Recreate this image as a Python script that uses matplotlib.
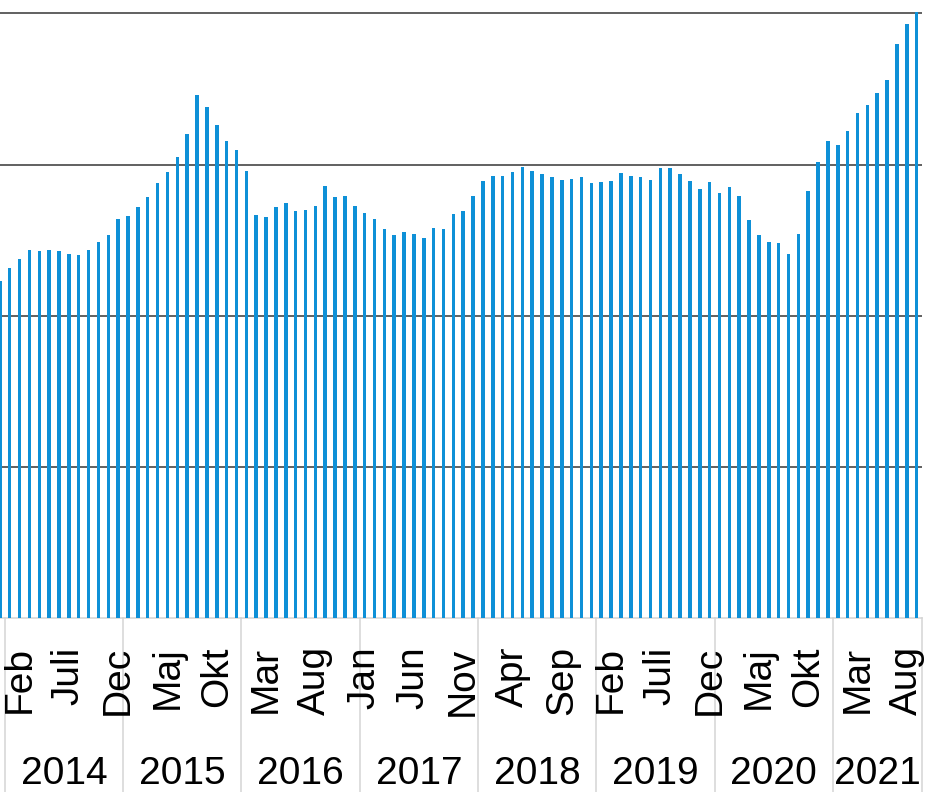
import matplotlib
matplotlib.use("Agg")
import matplotlib.pyplot as plt

plt.rcParams['font.family'] = ['Liberation Sans', 'DejaVu Sans']

# monthly values, Dec 2013 .. Sep 2021
start = (2013, 12)
values = [55.7,
          58.0, 59.4, 60.9, 60.7, 60.9, 60.7, 60.2, 60.0, 60.9, 62.3, 63.4, 66.1,   # 2014
          66.5, 68.0, 69.6, 71.9, 73.8, 76.3, 80.0, 86.5, 84.6, 81.5, 79.0, 77.5,   # 2015
          74.0, 66.7, 66.3, 68.0, 68.6, 67.3, 67.5, 68.2, 71.5, 69.6, 69.8, 68.1,   # 2016
          67.1, 66.1, 64.4, 63.4, 63.8, 63.6, 62.9, 64.6, 64.4, 66.9, 67.3, 69.8,   # 2017
          72.3, 73.1, 73.1, 73.8, 74.6, 74.0, 73.4, 72.9, 72.5, 72.7, 72.9, 71.9,   # 2018
          72.1, 72.3, 73.6, 73.1, 72.9, 72.5, 74.4, 74.4, 73.4, 72.3, 71.0, 72.1,   # 2019
          70.4, 71.3, 69.8, 65.9, 63.4, 62.3, 62.1, 60.2, 63.6, 70.7, 75.5, 79.0,   # 2020
          78.3, 80.6, 83.6, 84.8, 86.9, 89.0, 95.0, 98.2, 100.3]                    # 2021

months = ["Jan", "Feb", "Mar", "Apr", "Maj", "Jun", "Juli", "Aug", "Sep", "Okt", "Nov", "Dec"]
years = [2014, 2015, 2016, 2017, 2018, 2019, 2020, 2021]
grid_values = [25, 50, 75, 100]

bar_color = '#0E90D7'
sep_color = '#D4D4D4'

fig = plt.figure(figsize=(9.3, 7.92), dpi=100)
ax = fig.add_axes([0, 0.2191, 0.991, 0.7746])

x = list(range(len(values)))
ax.bar(x, values, width=0.36, color=bar_color, zorder=3)

for g in grid_values:
    ax.axhline(g, color='#464646', lw=1.2, zorder=1)

ax.set_xlim(0.016, len(values) - 0.5)
ax.set_ylim(0, 101.4)
ax.set_xticks([])
ax.set_yticks([])
for s in ['top', 'left', 'right']:
    ax.spines[s].set_visible(False)
ax.spines['bottom'].set_color(sep_color)
ax.spines['bottom'].set_linewidth(1.1)

# month labels every 5 months starting Feb 2014
for i in range(len(values)):
    m = (start[1] - 1 + i) % 12
    if i >= 2 and (i - 2) % 5 == 0:
        ax.annotate(months[m], xy=(i, 0), xycoords=('data', 'axes fraction'),
                    xytext=(0, -20), textcoords='offset points',
                    rotation=90, ha='center', va='top', fontsize=28,
                    annotation_clip=False)

# year separators and labels
trans = ax.get_xaxis_transform()
depth = -(792 - 618.5) / 613.5
for k, yr in enumerate(years):
    left = 0.5 + 12 * k
    right = min(left + 12, len(values) - 0.5)
    ax.plot([left, left], [0, depth], transform=trans, color=sep_color,
            lw=1.1, clip_on=False)
    ax.annotate(str(yr), xy=((left + right) / 2, 0), xycoords=('data', 'axes fraction'),
                xytext=(0, -119), textcoords='offset points',
                ha='center', va='baseline', fontsize=28, annotation_clip=False)
ax.plot([len(values) - 0.5] * 2, [0, depth], transform=trans, color=sep_color,
        lw=1.1, clip_on=False)

fig.savefig("out.png", dpi=100)
